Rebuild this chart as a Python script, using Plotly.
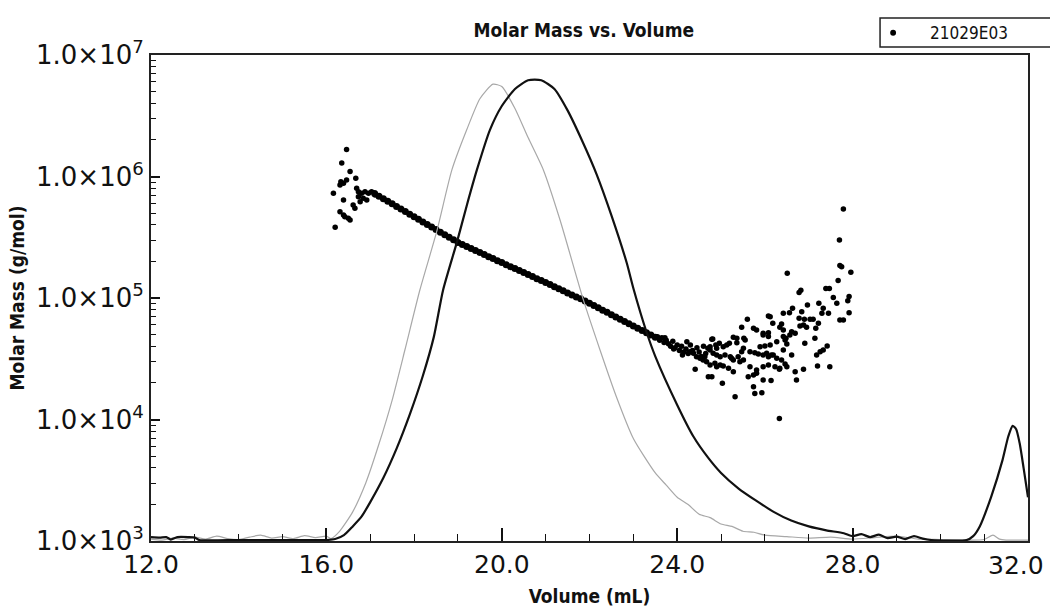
import plotly.graph_objs as go

# molar mass points (mL, g/mol)
left_vol = [16.46, 16.35, 16.54, 16.67, 16.33, 16.39, 16.46, 16.31, 16.69, 16.73, 16.16, 16.39, 16.73, 16.61,
            16.65, 16.31, 16.42, 16.50, 16.39, 16.54, 16.20, 16.80, 16.88, 16.96, 17.03, 17.11, 16.84, 16.92, 16.77]
left_mass = [1.67e6, 1.29e6, 1.10e6, 9.66e5, 9.06e5, 8.79e5, 9.35e5, 8.51e5, 8.00e5, 7.50e5, 7.28e5, 6.41e5,
             6.82e5, 5.82e5, 5.47e5, 5.13e5, 4.67e5, 4.53e5, 4.82e5, 4.39e5, 3.82e5, 7.28e5, 7.50e5, 7.28e5,
             7.50e5, 7.05e5, 6.62e5, 6.41e5, 6.21e5]

band_vol = [17.1, 17.2, 17.3, 17.4, 17.5, 17.6, 17.7, 17.8, 17.9, 18.0, 18.1, 18.2, 18.3, 18.4, 18.5, 18.6,
            18.7, 18.8, 18.9, 19.0, 19.1, 19.2, 19.3, 19.4, 19.5, 19.6, 19.7, 19.8, 19.9, 20.0, 20.1, 20.2,
            20.3, 20.4, 20.5, 20.6, 20.7, 20.8, 20.9, 21.0, 21.1, 21.2, 21.3, 21.4, 21.5, 21.6, 21.7, 21.8,
            21.9, 22.0, 22.1, 22.2, 22.3, 22.4, 22.5, 22.6, 22.7, 22.8, 22.9, 23.0, 23.1, 23.2, 23.3, 23.4, 23.5]
band_mass = [7.23e5, 6.89e5, 6.56e5, 6.25e5, 5.96e5, 5.66e5, 5.40e5, 5.14e5, 4.90e5, 4.67e5, 4.44e5, 4.23e5,
             4.03e5, 3.84e5, 3.66e5, 3.48e5, 3.31e5, 3.16e5, 3.01e5, 2.86e5, 2.76e5, 2.65e5, 2.56e5, 2.46e5,
             2.37e5, 2.28e5, 2.19e5, 2.11e5, 2.03e5, 1.96e5, 1.88e5, 1.81e5, 1.75e5, 1.68e5, 1.62e5, 1.56e5,
             1.50e5, 1.44e5, 1.39e5, 1.34e5, 1.29e5, 1.24e5, 1.19e5, 1.15e5, 1.10e5, 1.06e5, 1.02e5, 9.84e4,
             9.44e4, 9.04e4, 8.66e4, 8.30e4, 7.94e4, 7.62e4, 7.29e4, 6.98e4, 6.70e4, 6.41e4, 6.15e4, 5.89e4,
             5.64e4, 5.41e4, 5.18e4, 4.97e4, 4.75e4]

tail_vol = [23.55, 23.6, 23.65, 23.7, 23.75, 23.8, 23.85, 23.9, 23.95, 24.0, 24.05, 24.1, 24.15, 24.2, 24.25,
            24.3, 23.72, 23.92, 24.12, 24.35, 24.45, 24.5, 24.55, 24.6, 24.65,
            27.79, 27.70, 27.71, 27.75, 27.96, 26.51, 27.67, 26.82, 26.78, 27.39, 27.47, 27.56, 27.92, 27.89,
            27.64, 27.23, 26.97, 26.63, 27.33, 27.30, 27.45, 26.42, 26.56, 27.92, 26.08, 26.12, 25.60, 26.78,
            26.90, 27.03, 27.10, 27.71, 27.79, 26.18, 26.38, 26.88, 26.95, 25.47, 26.34, 26.42, 26.61, 26.69,
            26.57, 25.74, 25.81, 27.22, 26.80, 25.96, 26.08, 26.42, 26.48, 27.14, 25.36, 25.28, 26.50, 26.91,
            24.81, 24.22, 25.05, 25.13, 25.36, 25.55, 25.89, 26.00, 26.12, 24.70, 24.75, 25.66, 25.77, 25.85,
            25.96, 26.08, 26.19, 26.27, 26.61, 27.18, 27.26, 27.33, 27.42, 24.90, 24.98, 25.09, 25.21, 25.28,
            25.39, 25.51, 24.59, 24.67, 24.52, 24.44, 24.37, 24.29, 24.75, 24.90, 25.05, 25.17, 25.66, 25.81,
            25.96, 26.08, 26.23, 26.33, 26.46, 26.50, 26.88, 27.20, 27.48, 26.69, 24.41, 25.28, 24.71, 24.79,
            25.62, 25.74, 25.81, 25.96, 26.14, 26.72, 25.03, 25.74, 25.77, 25.93, 25.32, 26.33,
            24.79, 24.75, 24.90, 24.63, 25.96, 26.08, 25.52, 25.19, 24.96, 24.88, 25.51, 25.47, 26.27, 26.46,
            26.42, 24.82, 25.24, 25.43, 26.04, 26.15, 26.38, 24.86, 24.98, 26.34, 26.84, 27.16]
tail_mass = [4.8e4, 4.5e4, 4.7e4, 4.3e4, 4.5e4, 4.2e4, 4.0e4, 4.4e4, 3.9e4, 4.1e4, 3.7e4, 4.0e4, 3.6e4, 3.8e4,
             3.5e4, 4.1e4, 4.7e4, 3.8e4, 3.4e4, 3.7e4, 3.9e4, 3.6e4, 3.3e4, 4.0e4, 3.5e4,
             5.40e5, 3.00e5, 1.85e5, 1.81e5, 1.63e5, 1.60e5, 1.39e5, 1.16e5, 1.11e5, 1.20e5, 1.20e5, 1.01e5,
             1.03e5, 9.50e4, 9.04e4, 9.04e4, 8.75e4, 8.22e4, 8.22e4, 7.48e4, 7.48e4, 7.48e4, 7.57e4, 7.57e4,
             7.11e4, 7.02e4, 6.68e4, 6.81e4, 6.68e4, 6.68e4, 6.68e4, 6.59e4, 6.59e4, 6.19e4, 6.11e4, 6.00e4,
             5.74e4, 5.74e4, 5.74e4, 5.46e4, 5.28e4, 5.12e4, 4.97e4, 5.64e4, 5.46e4, 6.19e4, 5.89e4, 4.97e4,
             4.81e4, 4.81e4, 4.66e4, 4.66e4, 4.66e4, 4.75e4, 4.18e4, 4.24e4, 4.60e4, 4.37e4, 3.97e4, 4.10e4,
             4.29e4, 4.51e4, 3.97e4, 4.03e4, 4.10e4, 3.86e4, 3.73e4, 3.61e4, 3.55e4, 3.46e4, 3.40e4, 3.29e4,
             3.40e4, 3.19e4, 3.40e4, 3.40e4, 3.61e4, 3.73e4, 4.03e4, 3.40e4, 3.29e4, 3.40e4, 3.29e4, 3.09e4,
             3.29e4, 3.09e4, 3.09e4, 2.99e4, 3.19e4, 3.29e4, 3.51e4, 3.61e4, 2.81e4, 2.72e4, 2.76e4, 2.64e4,
             2.72e4, 2.55e4, 2.72e4, 2.81e4, 2.72e4, 2.59e4, 2.86e4, 2.72e4, 2.59e4, 2.76e4, 2.72e4, 2.47e4,
             2.59e4, 2.47e4, 2.25e4, 2.25e4, 2.25e4, 2.32e4, 2.40e4, 2.11e4, 2.09e4, 2.11e4, 1.99e4, 1.86e4,
             1.64e4, 1.66e4, 1.54e4, 1.02e4,
             4.57e4, 3.97e4, 3.86e4, 3.29e4, 5.12e4, 5.18e4, 4.66e4, 4.24e4, 4.24e4, 4.10e4, 3.86e4, 3.61e4,
             4.37e4, 4.51e4, 3.73e4, 3.51e4, 3.19e4, 2.99e4, 3.51e4, 3.40e4, 3.09e4, 2.90e4, 2.81e4, 2.64e4,
             7.71e4, 5.64e4]

# detector traces, relative height (0 = bottom of plot, 1 = top)
rt_vol = [12.0, 12.2, 12.35, 12.45, 12.6, 12.85, 13.0, 13.1, 14.0, 15.0, 16.0, 16.2, 16.4, 16.6, 16.8, 17.0,
          17.3, 17.6, 17.9, 18.2, 18.45, 18.66, 18.98, 19.2, 19.43, 19.73, 20.0, 20.3, 20.6, 20.9, 21.2, 21.5,
          21.85, 22.16, 22.5, 22.85, 23.0, 23.3, 23.5, 24.0, 24.37, 24.7, 25.0, 25.4, 25.8, 26.2, 26.6, 27.0,
          27.4, 27.8, 28.0, 28.2, 28.4, 28.6, 28.8, 29.0, 29.2, 29.4, 29.6, 29.8, 30.6, 30.75, 30.9, 31.16,
          31.42, 31.55, 31.65, 31.73, 31.81, 31.9, 32.0]
rt_signal = [0.008, 0.007, 0.008, 0.003, 0.008, 0.008, 0.007, 0.002, 0.002, 0.002, 0.002, 0.004, 0.012, 0.03,
             0.05, 0.08, 0.13, 0.19, 0.26, 0.34, 0.42, 0.516, 0.616, 0.69, 0.763, 0.846, 0.895, 0.93, 0.948,
             0.948, 0.93, 0.886, 0.82, 0.755, 0.67, 0.572, 0.52, 0.43, 0.38, 0.28, 0.215, 0.172, 0.14, 0.108,
             0.083, 0.06, 0.042, 0.03, 0.022, 0.016, 0.01, 0.014, 0.008, 0.013, 0.006, 0.009, 0.004, 0.01,
             0.005, 0.002, 0.002, 0.01, 0.03, 0.091, 0.167, 0.215, 0.237, 0.23, 0.201, 0.15, 0.09]

ls_vol = [12.0, 12.25, 12.5, 12.75, 13.0, 13.25, 13.5, 13.75, 14.0, 14.25, 14.5, 14.75, 15.0, 15.25, 15.5,
          15.75, 16.0, 16.1, 16.3, 16.6, 16.9, 17.2, 17.5, 17.79, 18.13, 18.52, 18.86, 19.2, 19.5, 19.8, 20.0,
          20.3, 20.6, 20.95, 21.33, 21.86, 22.24, 22.6, 23.0, 23.5, 23.75, 24.0, 24.25, 24.5, 24.75, 25.0,
          25.25, 25.5, 25.75, 26.0, 26.5, 27.0, 27.5, 28.0, 28.5, 29.0, 29.5, 30.0, 30.5, 31.0, 31.2, 31.35,
          31.5, 32.0]
ls_signal = [0.004, 0.002, 0.006, 0.003, 0.008, 0.004, 0.010, 0.005, 0.003, 0.008, 0.012, 0.006, 0.009,
             0.005, 0.011, 0.007, 0.010, 0.005, 0.02, 0.06, 0.12, 0.20, 0.29, 0.393, 0.516, 0.638, 0.763,
             0.846, 0.91, 0.94, 0.935, 0.89, 0.83, 0.763, 0.66, 0.496, 0.393, 0.30, 0.211, 0.14, 0.115, 0.09,
             0.075, 0.055, 0.048, 0.035, 0.03, 0.02, 0.018, 0.012, 0.009, 0.006, 0.008, 0.004, 0.007, 0.010,
             0.004, 0.003, 0.002, 0.003, 0.012, 0.004, 0.002, 0.002]

y_tickvals = [1e3, 1e4, 1e5, 1e6, 1e7]
y_ticktext = ['1.0×10<sup>3</sup>', '1.0×10<sup>4</sup>', '1.0×10<sup>5</sup>',
              '1.0×10<sup>6</sup>', '1.0×10<sup>7</sup>']
x_tickvals = [12, 16, 20, 24, 28, 32]
x_ticktext = ['12.0', '16.0', '20.0', '24.0', '28.0', '32.0']

FONT = 'DejaVu Sans'
BOLD = 'Liberation Sans Narrow, DejaVu Sans Condensed, Liberation Sans'

# the dense band is drawn a bit fatter so it reads as a solid stroke
marker_sizes = [5.5] * len(left_vol) + [7] * len(band_vol) + [5.5] * len(tail_vol)

traces = [
    go.Scatter(x=ls_vol, y=ls_signal, yaxis='y2', mode='lines', showlegend=False, hoverinfo='skip',
               line=dict(color='#a8a8a8', width=1.2, shape='spline', smoothing=0.6)),
    go.Scatter(x=rt_vol, y=rt_signal, yaxis='y2', mode='lines', showlegend=False, hoverinfo='skip',
               line=dict(color='#111111', width=2.2, shape='spline', smoothing=0.6)),
    go.Scatter(x=left_vol + band_vol + tail_vol, y=left_mass + band_mass + tail_mass, mode='markers',
               name='21029E03',
               marker=dict(color='#000000', size=marker_sizes, opacity=1, line=dict(width=0))),
]

minor_y = [m * 10 ** e for e in range(3, 7) for m in range(2, 10)]

# the last x label sits left of its tick so it stays on the page, as in the original
last_label = dict(text=x_ticktext[-1], x=x_tickvals[-1], xref='x', y=0, yref='paper',
                  xanchor='right', yanchor='top', xshift=18, yshift=-8, showarrow=False,
                  font=dict(family=FONT, size=25, color='#111111'))

layout = go.Layout(
    width=1050, height=607,
    margin=dict(l=151, r=22, t=55, b=66, autoexpand=False),
    paper_bgcolor='white', plot_bgcolor='white',
    font=dict(family=FONT, size=25, color='#111111'),
    title=dict(text='<b>Molar Mass vs. Volume</b>', x=0.556, xanchor='center', y=0.950, yanchor='middle',
               font=dict(family=BOLD, size=19, color='#111111')),
    xaxis=dict(range=[12, 32], tickmode='array', tickvals=x_tickvals, ticktext=x_ticktext[:-1] + [''],
               ticks='inside', ticklen=13, tickwidth=1.5, tickcolor='#111111',
               minor=dict(dtick=1, ticks='inside', ticklen=7, tickwidth=1.2, tickcolor='#111111', showgrid=False),
               showline=True, linecolor='#222222', linewidth=2, mirror=True, showgrid=False, zeroline=False,
               title=dict(text='<b>Volume (mL)</b>', font=dict(family=BOLD, size=19), standoff=12)),
    yaxis=dict(type='log', range=[3, 7], tickmode='array', tickvals=y_tickvals, ticktext=y_ticktext,
               ticks='inside', ticklen=9, tickwidth=1.5, tickcolor='#111111', ticklabeloverflow='allow',
               tickfont=dict(size=26),
               minor=dict(tickmode='array', tickvals=minor_y, ticks='inside', ticklen=5, tickwidth=1.2,
                          tickcolor='#111111', showgrid=False),
               showline=True, linecolor='#222222', linewidth=2, mirror=True, showgrid=False, zeroline=False,
               title=dict(text='<b>Molar Mass (g/mol)</b>', font=dict(family=BOLD, size=19), standoff=6)),
    yaxis2=dict(overlaying='y', range=[0, 1], visible=False),
    legend=dict(x=0.804, y=1.082, xanchor='left', yanchor='top', bgcolor='rgba(0,0,0,0)', borderwidth=0,
                font=dict(family=BOLD, size=17), itemwidth=64),
    annotations=[last_label],
    shapes=[dict(type='rect', xref='paper', yref='paper', x0=0.8313, x1=1.03, y0=1.0165, y1=1.0761,
                 line=dict(color='#222222', width=1.5))],
)

fig = go.Figure(data=traces, layout=layout)
# the page's default body margin would push the figure 8px right and down
fig.write_html('out.html', config={'displayModeBar': False},
               post_script="document.body.style.margin = '0px';")
